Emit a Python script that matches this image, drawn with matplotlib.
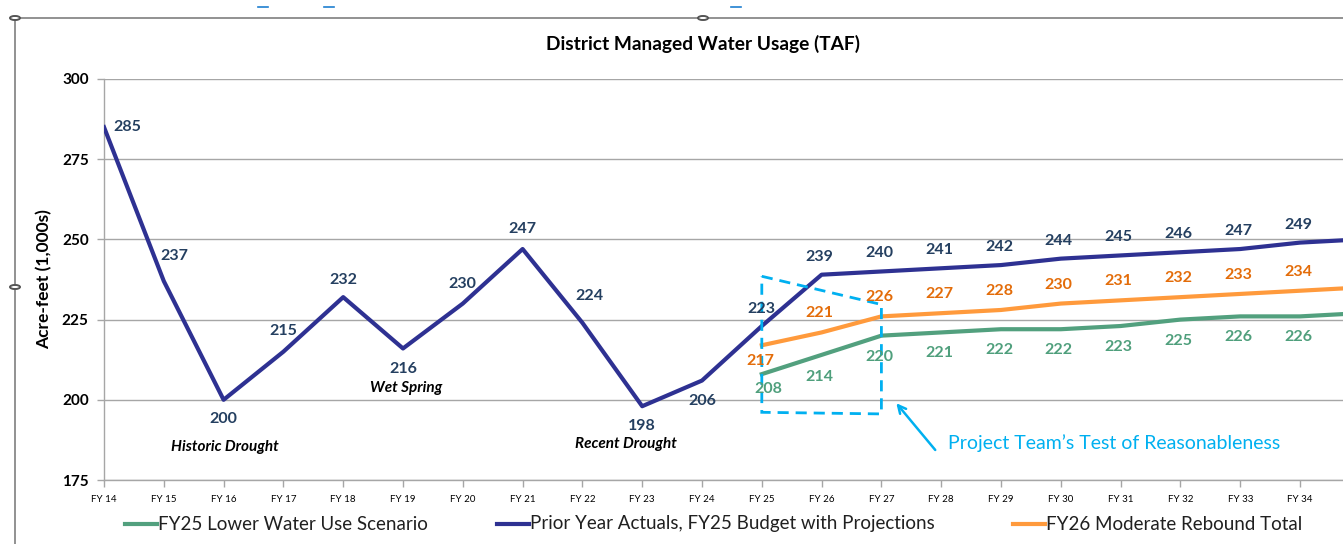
#!/usr/bin/env python3
"""District managed water usage chart (TAF), FY14 onward with projections."""

import matplotlib
matplotlib.use("Agg")
import matplotlib.pyplot as plt
from matplotlib.lines import Line2D
from matplotlib.patches import Circle, Polygon

# ---- data -------------------------------------------------------------
years = list(range(14, 36))                      # FY14 .. FY35 (FY35 runs off the right edge)
tick_labels = [f"FY {y}" for y in range(14, 35)]

actuals = [285, 237, 200, 215, 232, 216, 230, 247, 224, 198, 206,
           223, 239, 240, 241, 242, 244, 245, 246, 247, 249, 250]

proj_years = list(range(25, 36))
rebound = [217, 221, 226, 227, 228, 230, 231, 232, 233, 234, 235]
lower = [208, 214, 220, 221, 222, 222, 223, 225, 226, 226, 227]

# test-of-reasonableness box corners (FY, TAF)
box_x = [25, 27, 27, 25]
box_y = [238.5, 229.7, 195.6, 196.1]

# label placements (pixel offsets dx, dy; positive dy = downward on screen)
actual_offsets = [(23, 0), (11, -25), (0, 19), (0, -21), (0, -17), (0, 21),
                  (0, -20), (0, -20), (7, -27), (0, 20), (0, 20), (0, -17)] + [(-2, -18)] * 10
rebound_offsets = [(-1, 16)] + [(-2, -19)] * 10
lower_offsets = [(7, 15), (-2, 22), (-2, 21)] + [(-2, 21)] * 8

NAVY = "#2E3192"
NAVY_TXT = "#243F60"
ORANGE = "#FF9A3C"
ORANGE_TXT = "#E36C09"
GREEN = "#52A07E"
GREEN_TXT = "#4F9F7C"
CYAN = "#00B0F0"
GRID = "#A6A6A6"

plt.rcParams["font.family"] = ["Lato", "DejaVu Sans"]

W, H = 1343, 544
fig = plt.figure(figsize=(W / 100, H / 100), dpi=100)

x0, x_fy34 = 104, 1300
px_per_year = (x_fy34 - x0) / 20.0
ax = fig.add_axes([x0 / W, 1 - 480 / H, 1 - x0 / W, (480 - 79) / H])
ax.set_xlim(14, 14 + (W - x0) / px_per_year)
ax.set_ylim(175, 300)

ax.set_yticks([175, 200, 225, 250, 275, 300])
ax.set_xticks(list(range(14, 35)))
ax.set_xticklabels(tick_labels, fontsize=7)
for lab in ax.get_yticklabels():
    lab.set_fontweight("bold")
    lab.set_fontsize(11)
ax.tick_params(axis="y", length=5, width=1, color=GRID, pad=6)
ax.tick_params(axis="x", length=5, width=1, color=GRID, pad=6)
ax.grid(axis="y", color=GRID, linewidth=1)
ax.set_axisbelow(True)
for side in ("top", "right"):
    ax.spines[side].set_visible(False)
for side in ("left", "bottom"):
    ax.spines[side].set_color(GRID)
    ax.spines[side].set_linewidth(1)

ax.set_ylabel("Acre-feet (1,000s)", fontsize=12.5, fontweight="bold", labelpad=7)

ax.plot(years, actuals, color=NAVY, linewidth=3, solid_joinstyle="round", zorder=3)
ax.plot(proj_years, rebound, color=ORANGE, linewidth=3, solid_joinstyle="round", zorder=3)
ax.plot(proj_years, lower, color=GREEN, linewidth=3, solid_joinstyle="round", zorder=3)


def label_series(xs, ys, offsets, color):
    for x, y, (dx, dy) in zip(xs, ys, offsets):
        if x > 34:
            continue
        ax.annotate(f"{y:g}", (x, y), xytext=(dx * 0.72, -dy * 0.72),
                    textcoords="offset points", ha="center", va="center",
                    fontsize=11.5, fontweight="bold", color=color, zorder=5)


label_series(years, actuals, actual_offsets, NAVY_TXT)
label_series(proj_years, rebound, rebound_offsets, ORANGE_TXT)
label_series(proj_years, lower, lower_offsets, GREEN_TXT)

# event notes
for txt, xx, yy in [("Historic Drought", 16.02, 185.3), ("Wet Spring", 19.05, 203.7),
                    ("Recent Drought", 22.72, 186.2)]:
    ax.text(xx, yy, txt, fontsize=11, fontweight="bold", fontstyle="italic",
            ha="center", va="center", color="black")

ax.add_patch(Polygon(list(zip(box_x, box_y)), closed=True, fill=False,
                     edgecolor=CYAN, linewidth=2, linestyle=(0, (4, 2.5)), zorder=4))
ax.annotate("", xy=(27.22, 199.6), xytext=(27.93, 183.7),
            arrowprops=dict(arrowstyle="->", color=CYAN, lw=1.8, mutation_scale=14))
ax.text(28.12, 186.6, "Project Team\u2019s Test of Reasonableness", fontsize=14,
        color=CYAN, ha="left", va="center")

fig.text(703 / W, 1 - 44 / H, "District Managed Water Usage (TAF)", fontsize=13.8,
         fontweight="bold", ha="center", va="center")

# legend along the bottom
legend_items = [("FY25 Lower Water Use Scenario", GREEN, 125),
                ("Prior Year Actuals, FY25 Budget with Projections", NAVY, 497),
                ("FY26 Moderate Rebound Total", ORANGE, 1013)]
ly = 1 - 524 / H
for txt, col, lx in legend_items:
    fig.add_artist(Line2D([lx / W, (lx + 32) / W], [ly, ly], color=col, linewidth=3))
    fig.text((lx + 33) / W, ly, txt, fontsize=13.5, ha="left", va="center", color="#202020")

# chart frame with selection handles
border = "#7F7F7F"
fig.add_artist(Line2D([15 / W, 1], [1 - 18 / H, 1 - 18 / H], color=border, linewidth=1.2))
fig.add_artist(Line2D([15 / W, 15 / W], [0, 1 - 18 / H], color=border, linewidth=1.2))
for hx, hy in [(15, 18), (703, 18), (15, 287)]:
    fig.add_artist(Circle((hx / W, 1 - hy / H), 5 / W, transform=fig.transFigure,
                          facecolor="white", edgecolor="#555555", linewidth=1.4, zorder=10))
for bx in (263, 329, 736):
    fig.add_artist(Line2D([(bx - 5) / W, (bx + 5) / W], [1 - 7 / H, 1 - 7 / H],
                          color="#1F7FD0", linewidth=1.2))

fig.savefig("out.png", dpi=100)
